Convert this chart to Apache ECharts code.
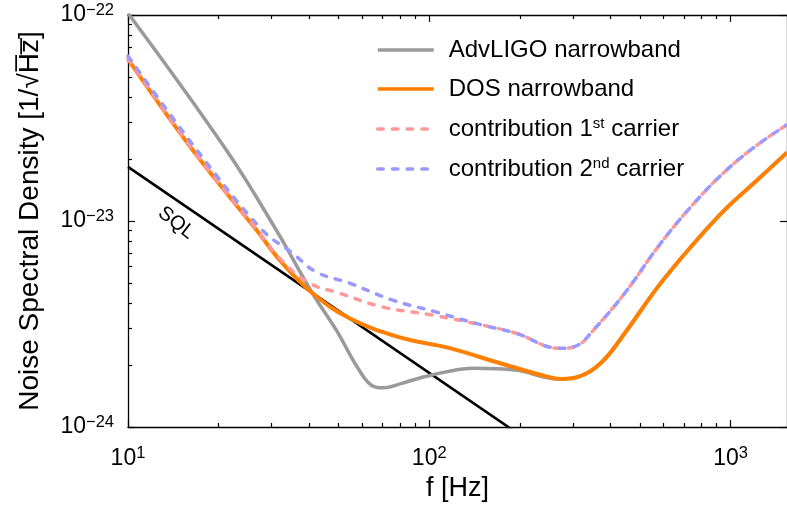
<!DOCTYPE html>
<html>
<head>
<meta charset="utf-8">
<script src="https://cdn.jsdelivr.net/npm/echarts@6/dist/echarts.min.js"></script>
<style>html,body{margin:0;padding:0;background:#fff}</style>
</head>
<body>
<div id="chart" style="width:787px;height:509px"></div>
<script>
// noise values are stored in units of 1e-24 1/sqrt(Hz)
// AdvLIGO narrowband
const ligoFreq = [10, 21.2, 31.1, 40.9, 49.1, 58.5, 65, 70.7, 80, 102, 142, 193, 268, 312, 372, 446, 574, 738, 955, 1227, 1540]
const ligoAsd = [102, 22.1, 9.0, 4.47, 2.96, 1.89, 1.58, 1.55, 1.62, 1.79, 1.93, 1.89, 1.71, 1.75, 2.05, 2.86, 4.79, 7.48, 11.3, 15.8, 21.5]
// DOS narrowband
const dosFreq = [10, 16.4, 26.7, 32.5, 40.9, 54.2, 79.3, 116, 170, 248, 274, 312, 372, 446, 574, 738, 955, 1227, 1540]
const dosAsd = [61.1, 22.1, 9.04, 6.25, 4.47, 3.38, 2.73, 2.42, 2.05, 1.75, 1.71, 1.75, 2.05, 2.86, 4.79, 7.48, 11.3, 15.8, 21.5]
// contribution 1st carrier
const c1Freq = [10, 16.4, 26.7, 32.5, 39.9, 50.2, 69.7, 101.9, 149, 193, 271, 312, 344, 446, 574, 738, 955, 1227, 1540]
const c1Asd = [61.5, 22.2, 9.1, 6.4, 5.0, 4.47, 3.83, 3.5, 3.13, 2.86, 2.41, 2.5, 2.86, 4.47, 7.48, 11.7, 17.3, 23.4, 29.3]
// contribution 2nd carrier
const c2Freq = [10, 16.65, 27.9, 35.1, 42.2, 54.2, 75.2, 105, 149, 193, 271, 312, 344, 446, 574, 738, 955, 1227, 1540]
const c2Asd = [63.2, 22.8, 9.04, 7.0, 5.65, 5.0, 4.14, 3.62, 3.13, 2.86, 2.41, 2.5, 2.86, 4.47, 7.48, 11.7, 17.3, 23.4, 29.3]
// SQL
const sqlFreq = [10, 200]
const sqlAsd = [18.3, 0.915]
const sqlLabelAt = [14.46, 9.78]

const unitExp = -24
const xMajor = [10, 100, 1000]
const xMinor = [20, 30, 40, 50, 60, 70, 80, 90, 200, 300, 400, 500, 600, 700, 800, 900]
const yMajor = [1, 10, 100]
const yMinor = [2, 3, 4, 5, 6, 7, 8, 9, 20, 30, 40, 50, 60, 70, 80, 90]
const xMin = 10, xMax = 1540, yMin = 1, yMax = 100

const legendNames = ['AdvLIGO narrowband', 'DOS narrowband', 'contribution 1st carrier', 'contribution 2nd carrier']

const pairs = (fs, vs) => fs.map((f, i) => [f, vs[i]])
const font = 'Liberation Sans, Arial, sans-serif'
const expo = (v, shift) => String(Math.round(Math.log10(v)) + shift).replace('-', '\u2212')

const supRich = {
  b: { fontSize: 23, fontFamily: font, color: '#000', lineHeight: 27 },
  s: { fontSize: 16.5, fontFamily: font, color: '#000', verticalAlign: 'top', lineHeight: 16 }
}
const tickLine = { color: '#000', width: 1.2 }

// one side of the frame: ticks only, or ticks + labels
const xAx = (grid, pos, ticks, len, withLabel) => ({
  type: 'log', logBase: 10, gridIndex: grid, position: pos, min: xMin, max: xMax,
  axisLine: { show: grid === 0, onZero: false, lineStyle: { color: '#000', width: 1.3 } },
  axisTick: { show: true, inside: true, length: len, customValues: ticks, lineStyle: tickLine },
  axisLabel: withLabel ? {
    show: true, customValues: xMajor, margin: 18,
    formatter: v => '{b|10}{s|' + expo(v, 0) + '}', rich: supRich
  } : { show: false },
  splitLine: { show: false }
})
const yAx = (grid, pos, ticks, len, withLabel) => ({
  type: 'log', logBase: 10, gridIndex: grid, position: pos, min: yMin, max: yMax,
  axisLine: { show: grid === 0, onZero: false, lineStyle: { color: '#000', width: 1.3 } },
  axisTick: { show: true, inside: true, length: len, customValues: ticks, lineStyle: tickLine },
  axisLabel: withLabel ? {
    show: true, customValues: yMajor, margin: 14,
    formatter: v => '{b|10}{s|' + expo(v, unitExp) + '}', rich: supRich
  } : { show: false },
  splitLine: { show: false }
})

var myChart = echarts.init(document.getElementById('chart'))
var xAxes = [xAx(0, 'bottom', xMajor, 7, true), xAx(0, 'top', xMajor, 7, false), xAx(1, 'bottom', xMinor, 4, false), xAx(1, 'top', xMinor, 4, false)]
xAxes[0].name = 'f [Hz]'
xAxes[0].nameLocation = 'middle'
xAxes[0].nameGap = 47
xAxes[0].nameTextStyle = { fontSize: 27, fontFamily: font, color: '#000' }
var yAxes = [yAx(0, 'left', yMajor, 7, true), yAx(0, 'right', yMajor, 7, false), yAx(1, 'left', yMinor, 4, false)]
// the right side only takes the default decade ticks
delete yAxes[1].axisTick.customValues
yAxes[0].name = 'Noise Spectral Density [1/\u221AH\u0305z\u0305]'
yAxes[0].nameLocation = 'middle'
yAxes[0].nameGap = 84
yAxes[0].nameTextStyle = { fontSize: 28, fontFamily: font, color: '#000' }

var option = {
  animation: false,
  grid: [
    { left: 128, top: 15, right: -3, bottom: 82 },
    { left: 128, top: 15, right: -3, bottom: 82 }
  ],
  xAxis: xAxes,
  yAxis: yAxes,
  legend: {
    data: legendNames,
    orient: 'vertical',
    left: 371, top: 33,
    itemWidth: 56, itemHeight: 12, itemGap: 15,
    itemStyle: { opacity: 0, color: 'rgba(0,0,0,0)', borderWidth: 0 },
    lineStyle: { width: 3.5 },
    formatter: name => {
      if (name.indexOf('1st') > -1) return '{t|contribution 1}{s|st}{t| carrier}'
      if (name.indexOf('2nd') > -1) return '{t|contribution 2}{s|nd}{t| carrier}'
      return '{t|' + name + '}'
    },
    textStyle: {
      fontSize: 24, fontFamily: font, color: '#000', padding: [0, 0, 0, 10],
      rich: {
        t: { fontSize: 24, fontFamily: font, color: '#000', lineHeight: 26 },
        s: { fontSize: 15, fontFamily: font, color: '#000', verticalAlign: 'top', lineHeight: 15 }
      }
    }
  },
  series: [
    {
      name: 'SQL', type: 'line', data: pairs(sqlFreq, sqlAsd), symbol: 'none',
      lineStyle: { color: '#000', width: 2.6 },
      markPoint: {
        symbolSize: 0,
        data: [{ coord: sqlLabelAt, value: 'SQL' }],
        label: { show: true, position: 'inside', formatter: 'SQL', rotate: -38, fontSize: 20, fontFamily: font, color: '#000' }
      }
    },
    {
      name: legendNames[0], type: 'line', data: pairs(ligoFreq, ligoAsd), symbol: 'none',
      smooth: 0.4, lineStyle: { color: '#9a9a9a', width: 3.5 }, itemStyle: { color: '#9a9a9a' }
    },
    {
      name: legendNames[1], type: 'line', data: pairs(dosFreq, dosAsd), symbol: 'none',
      smooth: 0.4, lineStyle: { color: '#ff8000', width: 4 }, itemStyle: { color: '#ff8000' }
    },
    {
      name: legendNames[2], type: 'line', data: pairs(c1Freq, c1Asd), symbol: 'none',
      smooth: 0.4, lineStyle: { color: '#ff9999', width: 3.5, type: [5.5, 9.2], cap: 'round' }, itemStyle: { color: '#ff9999' }
    },
    {
      name: legendNames[3], type: 'line', data: pairs(c2Freq, c2Asd), symbol: 'none',
      smooth: 0.4, lineStyle: { color: '#9999ff', width: 3.5, type: [5.5, 9.2], cap: 'round' }, itemStyle: { color: '#9999ff' }
    }
  ]
}
myChart.setOption(option)
</script>
</body>
</html>
